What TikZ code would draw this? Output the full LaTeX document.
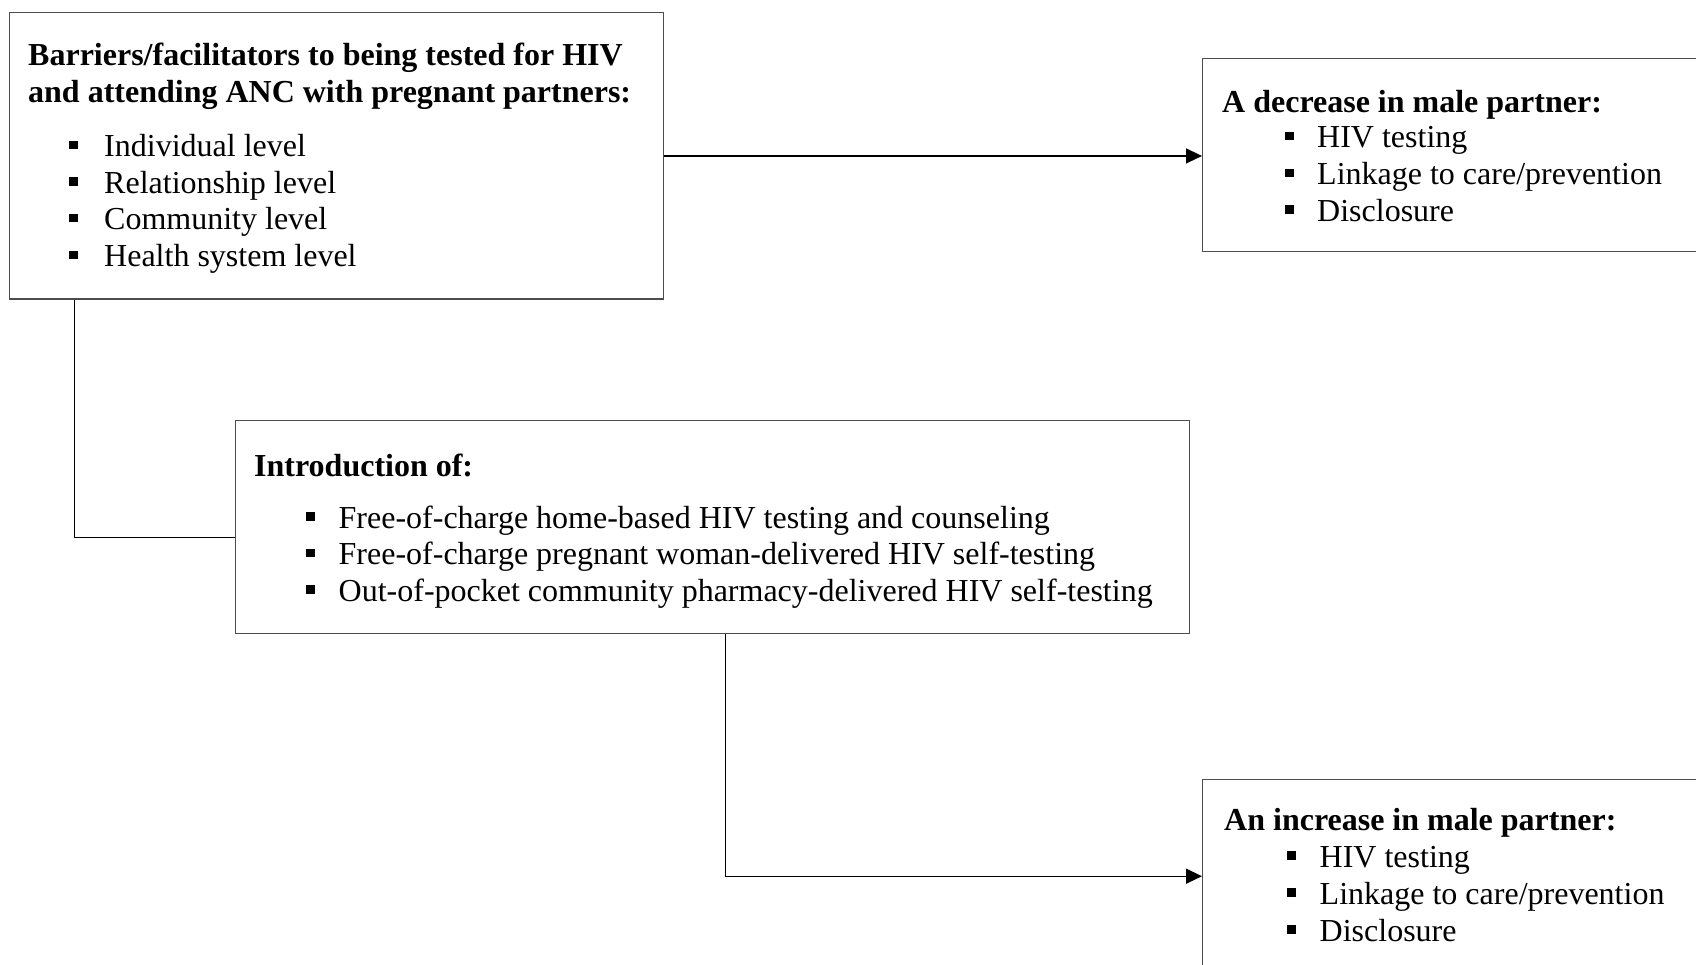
\documentclass[tikz,border=0pt]{standalone}
\usepackage{fontspec}
\setmainfont{Liberation Serif}
\usetikzlibrary{arrows.meta}
\tikzset{
  box/.style={draw=black!70, line width=1.4pt, rectangle, inner sep=0pt, anchor=north west},
  link/.style={draw=black, line width=1.4pt},
  tip/.style={-{Triangle[length=16pt,width=15pt]}},
  txt/.style={anchor=base west, inner sep=0pt, font=\fontsize{32}{37}\selectfont},
  head/.style={anchor=base west, inner sep=0pt, font=\fontsize{32}{37}\selectfont\bfseries},
  sqmark/.style={anchor=base west, inner sep=0pt},
}
\newcommand\sqbullet{\rule[7.5pt]{8.5pt}{8.5pt}}
\begin{document}
\begin{tikzpicture}[x=1pt,y=-1pt]
\clip (0,0) rectangle (1696,965);
\fill[white] (0,0) rectangle (1696,965);

% boxes
\node[box, minimum width=654pt, minimum height=286.5pt] (barriers) at (9,12) {};
\node[box, minimum width=520pt, minimum height=193pt] (decrease) at (1202,58) {};
\node[box, minimum width=954pt, minimum height=213pt] (intro) at (235,420) {};
\node[box, minimum width=520pt, minimum height=193pt] (increase) at (1202,779) {};

% barriers box text
\node[head] (b1) at (28,66) {Barriers/facilitators to being tested for HIV};
\node[head] (b2) at (28,103) {and attending ANC with pregnant partners:};
\foreach \y/\t [count=\i] in {157/{Individual level},193.5/{Relationship level},230/{Community level},267/{Health system level}}{
  \node[sqmark] (bm\i) at (69,\y) {\sqbullet};
  \node[txt] (bt\i) at (104,\y) {\t};
}

% decrease box text
\node[head] (d0) at (1222,113) {A decrease in male partner:};
\foreach \y/\t [count=\i] in {148/{HIV testing},185/{Linkage to care/prevention},221.5/{Disclosure}}{
  \node[sqmark] (dm\i) at (1285,\y) {\sqbullet};
  \node[txt] (dt\i) at (1317,\y) {\t};
}

% introduction box text
\node[head] (i0) at (254,476.5) {Introduction of:};
\foreach \y/\t [count=\i] in {528/{Free-of-charge home-based HIV testing and counseling},564.5/{Free-of-charge pregnant woman-delivered HIV self-testing},601/{Out-of-pocket community pharmacy-delivered HIV self-testing}}{
  \node[sqmark] (im\i) at (306,\y) {\sqbullet};
  \node[txt] (it\i) at (338.5,\y) {\t};
}

% increase box text
\node[head] (n0) at (1224,830) {An increase in male partner:};
\foreach \y/\t [count=\i] in {867/{HIV testing},904/{Linkage to care/prevention},941/{Disclosure}}{
  \node[sqmark] (nm\i) at (1287,\y) {\sqbullet};
  \node[txt] (nt\i) at (1319.5,\y) {\t};
}

% connectors
\draw[link, tip] (barriers.east) -- (barriers.east -| decrease.west);
\draw[link] ([xshift=65.6pt]barriers.south west) |- ([yshift=-10.5pt]intro.west);
\draw[link, tip] ([xshift=13pt]intro.south) |- (increase.west);
\end{tikzpicture}
\end{document}
